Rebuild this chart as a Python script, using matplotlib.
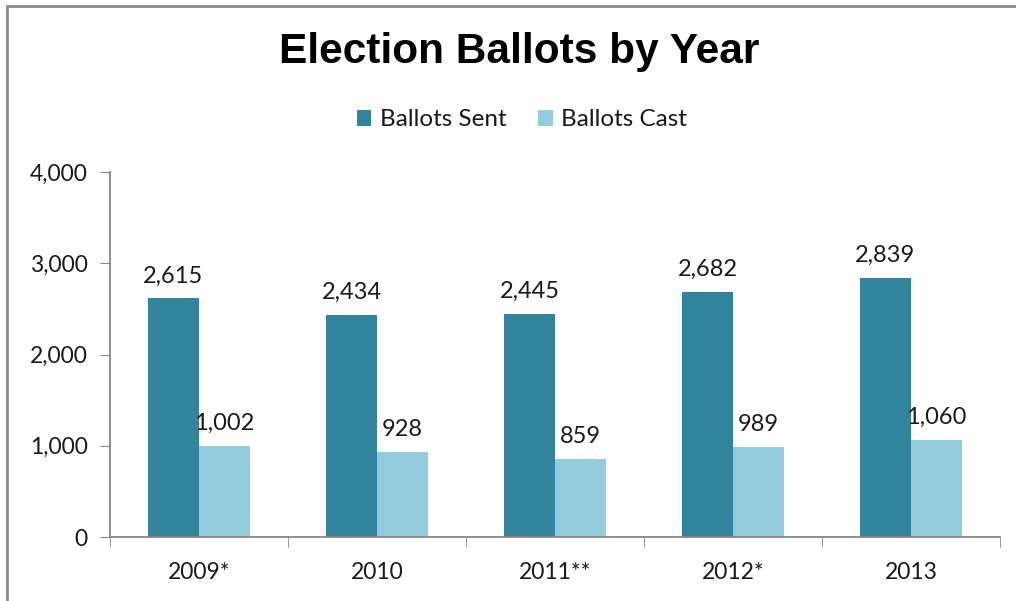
import matplotlib.pyplot as plt
import numpy as np
from matplotlib.patches import Rectangle

years = ['2009*', '2010', '2011**', '2012*', '2013']
ballots_sent = [2615, 2434, 2445, 2682, 2839]
ballots_cast = [1002, 928, 859, 989, 1060]

plt.rcParams['font.family'] = ['Lato', 'DejaVu Sans']

fig = plt.figure(figsize=(10.16, 6.01), dpi=100)
ax = fig.add_axes([110 / 1016, 1 - 537 / 601, 890 / 1016, 365 / 601])

# outer chart border (cut off at right/bottom in the reference)
fig.add_artist(Rectangle((7 / 1016, -0.05), 1.2, 1 - 6 / 601 + 0.05,
                         transform=fig.transFigure, fill=False,
                         edgecolor='#8c8c8c', linewidth=2))

x = np.arange(len(years))
w = 0.287
b1 = ax.bar(x - w / 2, ballots_sent, w, color='#31849B', label='Ballots Sent')
b2 = ax.bar(x + w / 2, ballots_cast, w, color='#93CDDD', label='Ballots Cast')

for bars, vals in [(b1, ballots_sent), (b2, ballots_cast)]:
    for r, v in zip(bars, vals):
        ax.annotate(f'{v:,}', (r.get_x() + r.get_width() / 2, v),
                    xytext=(0, 11.5), textcoords='offset points',
                    ha='center', va='baseline', fontsize=17, color='#1a1a1a')

ax.set_xlim(-0.5, len(years) - 0.5)
ax.set_ylim(0, 4000)
ax.set_yticks([0, 1000, 2000, 3000, 4000])
ax.set_yticklabels([f'{t:,}' for t in [0, 1000, 2000, 3000, 4000]])
ax.set_xticks(x)
ax.set_xticklabels(years)
ax.set_xticks(np.arange(len(years) + 1) - 0.5, minor=True)
ax.tick_params(axis='x', which='major', length=0, pad=18)
ax.tick_params(axis='x', which='minor', length=7, direction='out', color='#868686')
ax.tick_params(axis='y', length=7, direction='out', color='#868686', pad=9)
ax.tick_params(labelsize=16.5, labelcolor='#1a1a1a')

for s in ['top', 'right']:
    ax.spines[s].set_visible(False)
for s in ['left', 'bottom']:
    ax.spines[s].set_color('#868686')
    ax.spines[s].set_linewidth(1.3)

fig.text(519 / 1016, 1 - 52 / 601, 'Election Ballots by Year', ha='center', va='center',
         fontsize=30.5, fontweight='bold', family='Liberation Sans')

fig.legend(handles=[b1, b2], loc='center', bbox_to_anchor=(522 / 1016, 1 - 120 / 601),
           ncol=2, frameon=False, fontsize=17.5, handlelength=0.6, handleheight=0.6,
           handletextpad=0.35, columnspacing=1.3, labelcolor='#1a1a1a')

fig.savefig('out.png', dpi=100)
